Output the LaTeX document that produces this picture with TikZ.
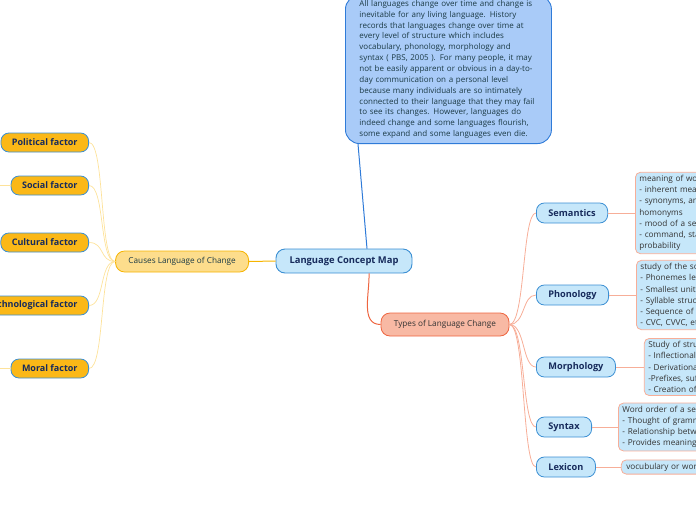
\documentclass[tikz,border=0pt]{standalone}
\usepackage{fontspec}
\setmainfont{Open Sans}
\usepackage{tikz}
\usetikzlibrary{positioning}
\definecolor{mapBlue}{HTML}{3B8FD3}
\definecolor{mapLightBlue}{HTML}{C6E7FA}
\definecolor{mapNavy}{HTML}{172B5C}
\definecolor{introFill}{HTML}{A9CBF8}
\definecolor{introLine}{HTML}{2F7BD8}
\definecolor{introText}{HTML}{1B3A45}
\definecolor{causeFill}{HTML}{FDDD8C}
\definecolor{causeLine}{HTML}{F6B400}
\definecolor{factorFill}{HTML}{FBB817}
\definecolor{factorLink}{HTML}{FDE29A}
\definecolor{typeFill}{HTML}{F8B9A4}
\definecolor{typeLine}{HTML}{EE6540}
\definecolor{typeLink}{HTML}{F7AE98}
\definecolor{noteText}{HTML}{333333}
\tikzset{
  topic/.style={rectangle,rounded corners=9pt,draw=mapBlue,fill=mapLightBlue,
    line width=0.9pt,text=mapNavy,font=\fontsize{9.4}{11}\selectfont\bfseries,
    minimum height=24pt,minimum width=136pt},
  intro/.style={rectangle,rounded corners=14pt,draw=introLine,fill=introFill,
    line width=0.9pt,text=introText,font=\fontsize{8}{10.85}\selectfont,
    align=left,text width=178pt,inner xsep=14pt,inner ysep=5pt},
  cause/.style={rectangle,rounded corners=9pt,draw=causeLine,fill=causeFill,
    line width=0.8pt,text=introText,font=\fontsize{8.2}{10}\selectfont,
    minimum height=21pt,minimum width=133pt},
  factor/.style={rectangle,rounded corners=8pt,draw=mapBlue,fill=factorFill,
    line width=0.8pt,text=mapNavy,font=\fontsize{9}{11}\selectfont\bfseries,
    minimum height=19pt,inner xsep=11pt},
  typebox/.style={rectangle,rounded corners=9pt,draw=typeLine,fill=typeFill,
    line width=0.8pt,text=noteText,font=\fontsize{8.2}{10}\selectfont,
    minimum height=23pt,minimum width=128pt},
  kind/.style={rectangle,rounded corners=8pt,draw=mapBlue,fill=mapLightBlue,
    line width=0.8pt,text=mapNavy,font=\fontsize{9.2}{11}\selectfont\bfseries,
    minimum height=20pt,inner xsep=12pt},
  note/.style={rectangle,rounded corners=5pt,draw=typeLink,fill=mapLightBlue,
    line width=0.8pt,text=noteText,font=\fontsize{8.2}{11.2}\selectfont,
    align=left,text width=170pt,inner xsep=4pt,inner ysep=3pt},
  introLink/.style={draw=introLine,line width=1pt},
  causeLink/.style={draw=causeLine,line width=1pt},
  factorLink/.style={draw=factorLink,line width=0.7pt},
  typeMain/.style={draw=typeLine,line width=1pt},
  typeLinkLine/.style={draw=typeLink,line width=0.8pt}
}
\begin{document}
\begin{tikzpicture}[x=1pt,y=-1pt]
  \useasboundingbox (0,0) rectangle (696,520);
  \clip (0,0) rectangle (696,520);

  % centre and intro text
  \node[topic] (lcm) at (344,261) {Language Concept Map};
  \node[intro,anchor=south west] (intro) at (345,144)
    {All languages change over time and change is\\
     inevitable for any living language. History\\
     records that languages change over time at\\
     every level of structure which includes\\
     vocabulary, phonology, morphology and\\
     syntax ( PBS, 2005 ). For many people, it may\\
     not be easily apparent or obvious in a day-to-\\
     day communication on a personal level\\
     because many individuals are so intimately\\
     connected to their language that they may fail\\
     to see its changes. However, languages do\\
     indeed change and some languages flourish,\\
     some expand and some languages even die.};

  % causes branch
  \node[cause,anchor=east] (causes) at (249,261.5) {Causes Language of Change};
  \node[factor,anchor=east] (pol) at (89,142.5) {Political factor};
  \node[factor,anchor=east] (soc) at (89,185.5) {Social factor};
  \node[factor,anchor=east] (cul) at (89,242.5) {Cultural factor};
  \node[factor,anchor=east] (tech) at (89,305.5) {Technological factor};
  \node[factor,anchor=east] (mor) at (89,368.5) {Moral factor};
  \coordinate (socOut) at (-12,185.5);
  \coordinate (morOut) at (-12,368.5);

  % types branch
  \node[typebox] (types) at (445,324.5) {Types of Language Change};
  \node[kind,anchor=west] (sem) at (536,213) {Semantics};
  \node[kind,anchor=west] (pho) at (536,295) {Phonology};
  \node[kind,anchor=west] (morph) at (536,367) {Morphology};
  \node[kind,anchor=west] (syn) at (536,427) {Syntax};
  \node[kind,anchor=west] (lex) at (536,467) {Lexicon};

  \node[note,right=27pt of sem] (semNote)
    {meaning of words\\- inherent meaning\\- synonyms, antonyms,\\homonyms\\
     - mood of a sentence\\- command, statement,\\probability};
  \node[note,right=27pt of pho] (phoNote)
    {study of the sound system\\- Phonemes letters\\- Smallest unit of sound\\
     - Syllable structure\\- Sequence of sounds\\- CVC, CVVC, etc};
  \node[note,right=28pt of morph] (morphNote)
    {Study of structure of words\\- Inflectional-\\- Derivational\\
     -Prefixes, suffixes\\- Creation of words};
  \node[note,right=26pt of syn] (synNote)
    {Word order of a sentence\\- Thought of grammar\\- Relationship between words\\
     - Provides meaning};
  \node[note,right=25pt of lex,inner xsep=5pt] (lexNote) {vocubulary or words};

  % connectors
  \draw[introLink] ([xshift=23pt]lcm.north) -- ([xshift=13pt]intro.south west);
  \draw[causeLink] (causes.east) -- (lcm.west);
  \foreach \f in {pol,soc,cul,tech,mor}
    \draw[factorLink] (causes.west) .. controls +(-16,0) and +(16,0) .. (\f.east);
  \draw[factorLink] (soc.west) -- (socOut);
  \draw[factorLink] (mor.west) -- (morOut);
  \draw[typeMain] ([xshift=25pt]lcm.south) to[out=-88,in=180] (types.west);
  \foreach \k in {sem,pho,morph,syn,lex}
    \draw[typeLinkLine] (types.east) .. controls +(16,0) and +(-14,0) .. (\k.west);
  \draw[typeLinkLine] (sem) -- (semNote);
  \draw[typeLinkLine] (pho) -- (phoNote);
  \draw[typeLinkLine] (morph) -- (morphNote);
  \draw[typeLinkLine] (syn) -- (synNote);
  \draw[typeLinkLine] (lex) -- (lexNote);
\end{tikzpicture}
\end{document}
